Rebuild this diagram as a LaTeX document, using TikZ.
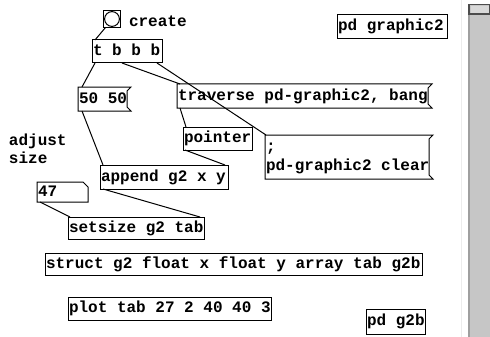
\documentclass[tikz,border=0pt]{standalone}
\usepackage{fontspec}
\usetikzlibrary{calc}
\font\pdfnt="Liberation Mono/B" at 16pt
\newcommand\pdsel{\pdfnt\baselineskip=19pt\relax}
\newcommand\pdstrut{\vrule height 13.5pt depth 5.5pt width 0pt\relax}
\def\pdwords#1 #2\pdstop{#1\ifx\pdstop#2\pdstop\else\kern9.6pt\pdwords#2\pdstop\fi}
\newcommand\pdtxt[1]{\mbox{\pdstrut\pdwords#1 \pdstop}}
\tikzset{
  pdfont/.style={font=\pdsel},
  pdbox/.style={pdfont, rectangle, anchor=north west, outer sep=0pt, inner xsep=1pt, inner ysep=0pt, align=left, line width=1pt},
  objbox/.style={pdbox, draw=black},
  msgbox/.style={pdbox},
  boxline/.style={draw=black, line width=1pt, line join=miter},
  conn/.style={draw=black, line width=1pt},
  cmt/.style={pdfont, inner sep=0pt, outer sep=0pt}
}
\newcommand\pdflag[1]{\draw[boxline] (#1.north west) -- ($(#1.north east)+(4pt,0)$) -- ($(#1.north east)+(0,-4pt)$) -- ($(#1.south east)+(0,4pt)$) -- ($(#1.south east)+(4pt,0)$) -- (#1.south west) -- cycle;}
\begin{document}
\begin{tikzpicture}[x=1pt,y=-1pt]
\fill[white] (0,0) rectangle (490,337);
\useasboundingbox (0,0) rectangle (490,337);
% scrollbar
\fill[gray!15] (461,0) rectangle (462,337);
\fill[gray!45] (468,4) rectangle (490,337);
\fill[gray!75] (468,4) rectangle (470,337);
\draw[black!70, line width=1.2pt] (469,4.6) rectangle (490,14);
\fill[gray!30] (471,6) rectangle (489,13);
% bang
\node[draw=black, line width=1.5pt, minimum size=17pt, inner sep=0pt, outer sep=0pt, anchor=north west] (bang) at (103.5,10.5) {};
\draw[black, line width=1pt] (bang.center) circle (7.4pt);
\node[cmt, anchor=base west] (create) at (129,27) {create};
% objects
\node[objbox, text width=68pt, minimum height=23pt] (tbbb) at (92,40) {\pdtxt{t b b b}};
\node[objbox, text width=108pt, minimum height=24pt] (pdg) at (337,15) {\pdtxt{pd graphic2}};
\node[msgbox, text width=47pt, minimum height=24pt] (m50) at (78,87) {\pdtxt{50 50}};
\pdflag{m50}
\node[msgbox, text width=249pt, minimum height=24pt] (trav) at (177,84) {\pdtxt{traverse pd-graphic2, bang}};
\pdflag{trav}
\node[objbox, text width=67pt, minimum height=23pt] (pointer) at (183,127) {\pdtxt{pointer}};
\node[msgbox, text width=162pt, minimum height=44pt] (clear) at (265,135) {\pdtxt{;}\\\pdtxt{pd-graphic2 clear}};
\pdflag{clear}
\node[cmt, anchor=base west, align=left] (adjust) at (9,163) {adjust\\[-1pt]size};
\node[objbox, text width=126pt, minimum height=24pt] (append) at (100,165) {\pdtxt{append g2 x y}};
\node[msgbox, text width=49pt, minimum height=20pt] (n47) at (37,182) {\pdtxt{47}};
\draw[boxline] (n47.north west) -- ($(n47.north east)+(-5pt,0)$) -- ($(n47.north east)+(0,-5pt)$) -- (n47.south east) -- (n47.south west) -- cycle;
\node[objbox, text width=134pt, minimum height=22pt] (setsize) at (68,217) {\pdtxt{setsize g2 tab}};
\node[objbox, text width=375pt, minimum height=22pt] (struct) at (45,253) {\pdtxt{struct g2 float x float y array tab g2b}};
\node[objbox, text width=201pt, minimum height=23pt] (plot) at (68,297) {\pdtxt{plot tab 27 2 40 40 3}};
\node[objbox, text width=57pt, minimum height=25pt] (pdg2b) at (366,309) {\pdtxt{pd g2b}};
% connections
\draw[conn] ($(bang.south west)+(2pt,0)$) -- ($(tbbb.north west)+(3pt,0)$);
\draw[conn] ($(tbbb.south west)+(3pt,0)$) -- ($(m50.north west)+(4pt,0)$);
\draw[conn] ($(tbbb.south west)+(30pt,0)$) -- ($(trav.north west)+(3pt,0)$);
\draw[conn] ($(tbbb.south east)+(-5pt,0)$) -- ($(clear.north west)+(1pt,0)$);
\draw[conn] ($(trav.south west)+(3pt,0)$) -- ($(pointer.north west)+(3pt,0)$);
\draw[conn] ($(pointer.south west)+(2pt,0)$) -- ($(append.north east)+(-3pt,0)$);
\draw[conn] ($(m50.south west)+(4pt,0)$) -- ($(append.north west)+(3pt,0)$);
\draw[conn] ($(n47.south west)+(3pt,0)$) -- ($(setsize.north west)+(2pt,0)$);
\draw[conn] ($(append.south west)+(3pt,0)$) -- ($(setsize.north east)+(-4pt,0)$);
\end{tikzpicture}
\end{document}
